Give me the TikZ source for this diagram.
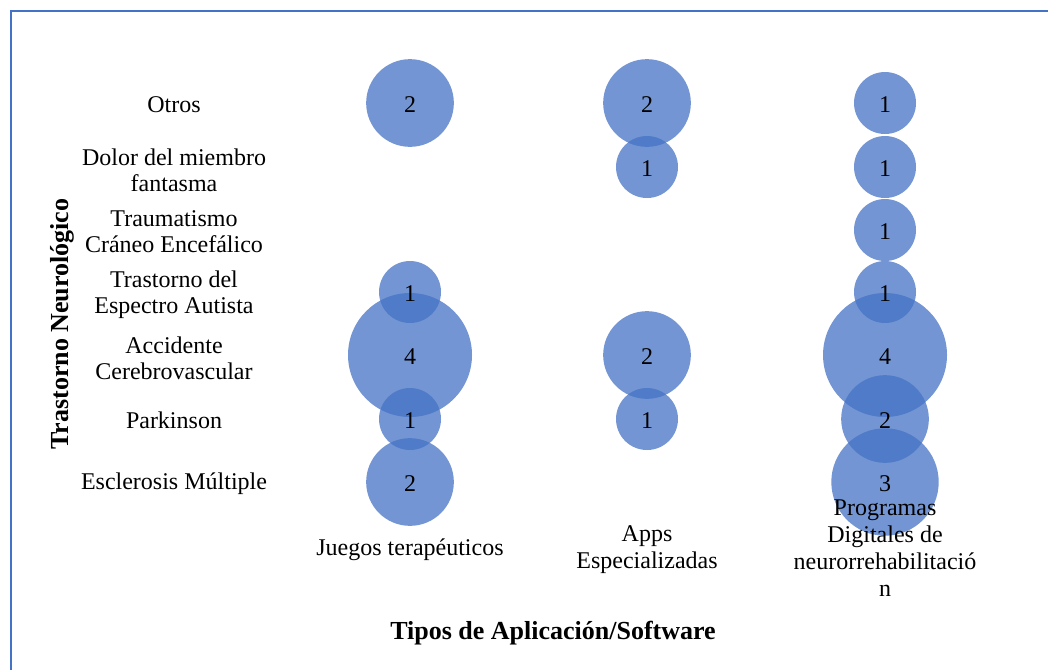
\documentclass[tikz,border=0pt]{standalone}
\usepackage{fontspec}
\setmainfont{Liberation Serif}
\definecolor{bub}{HTML}{4472C4}
\begin{document}
\begin{tikzpicture}[x=1pt,y=-1pt,
 bubble/.style={circle, fill=bub, fill opacity=0.75, draw=none, inner sep=0pt, minimum size=#1},
 num/.style={font=\fontsize{24}{26}\selectfont, inner sep=0pt, yshift=-1.5pt},
 ylab/.style={font=\fontsize{24}{26}\selectfont, align=center, inner sep=0pt},
 xlab/.style={font=\fontsize{24}{27}\selectfont, align=center, inner sep=0pt},
 ttl/.style={font=\fontsize{26}{30}\selectfont\bfseries, inner sep=0pt}]
\useasboundingbox (0,0) rectangle (1048,670);
\draw[bub, line width=2pt] (11,670) -- (11,11) -- (1048,11);
% bubbles
\node[bubble=87.7] (j1) at (410,103) {};
\node[bubble=87.7] (a1) at (647,103) {};
\node[bubble=62] (p1) at (885,103) {};
\node[bubble=62] (a2) at (647,167) {};
\node[bubble=62] (p2) at (885,167) {};
\node[bubble=62] (p3) at (885,230) {};
\node[bubble=62] (j4) at (410,292) {};
\node[bubble=62] (p4) at (885,292) {};
\node[bubble=124] (j5) at (410,355) {};
\node[bubble=87.7] (a5) at (647,355) {};
\node[bubble=124] (p5) at (885,355) {};
\node[bubble=62] (j6) at (410,419) {};
\node[bubble=62] (a6) at (647,419) {};
\node[bubble=87.7] (p6) at (885,419) {};
\node[bubble=87.7] (j7) at (410,482) {};
\node[bubble=107.4] (p7) at (885,482) {};
% values
\node[num] (tj1) at (j1) {2};
\node[num] (ta1) at (a1) {2};
\node[num] (tp1) at (p1) {1};
\node[num] (ta2) at (a2) {1};
\node[num] (tp2) at (p2) {1};
\node[num] (tp3) at (p3) {1};
\node[num] (tj4) at (j4) {1};
\node[num] (tp4) at (p4) {1};
\node[num] (tj5) at (j5) {4};
\node[num] (ta5) at (a5) {2};
\node[num] (tp5) at (p5) {4};
\node[num] (tj6) at (j6) {1};
\node[num] (ta6) at (a6) {1};
\node[num] (tp6) at (p6) {2};
\node[num] (tj7) at (j7) {2};
\node[num] (tp7) at (p7) {3};
% y labels
\node[ylab] (y1) at (174,104.5) {Otros};
\node[ylab] (y2) at (174,170) {Dolor del miembro\\fantasma};
\node[ylab] (y3) at (174,232) {Traumatismo\\Cráneo Encefálico};
\node[ylab] (y4) at (174,295) {Trastorno del\\Espectro Autista};
\node[ylab] (y5) at (174,358) {Accidente\\Cerebrovascular};
\node[ylab] (y6) at (174,420.5) {Parkinson};
\node[ylab] (y7) at (174,483.5) {Esclerosis Múltiple};
% x labels
\node[xlab] (x1) at (410,550) {Juegos terapéuticos};
\node[xlab] (x2) at (647,550) {Apps\\Especializadas};
\node[xlab] (x3) at (885,548.5) {Programas\\Digitales de\\neurorrehabilitació\\n};
% axis titles
\node[ttl] (tx) at (553,633) {Tipos de Aplicación/Software};
\node[ttl, rotate=90] (ty) at (62,324) {Trastorno Neurológico};
\end{tikzpicture}
\end{document}
